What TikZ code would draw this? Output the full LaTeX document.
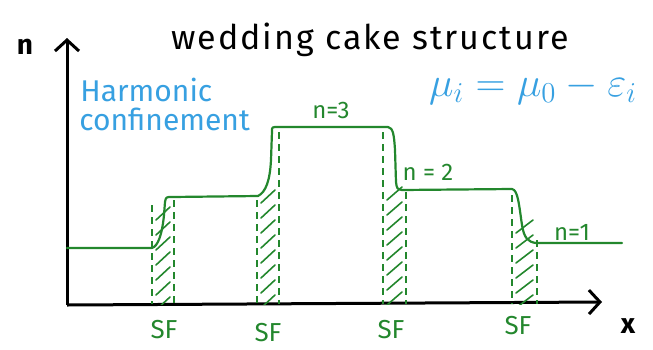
\documentclass[tikz,border=0pt]{standalone}
\usepackage{fontspec}
\setmainfont{Fira Sans}
\newfontfamily\handfont[LetterSpace=6]{Fira Sans}
\usetikzlibrary{arrows.meta}
\definecolor{pen}{RGB}{35,135,45}
\definecolor{ink}{RGB}{55,160,225}
\newcommand{\sfcolumn}[5]{% x1, x2, top of left dash, top of right dash, top of hatching
  \begin{scope}
    \clip (#1,#5) rectangle (#2,304);
    \foreach \yy in {0,15,...,140} {
      \draw[hatch] ({#1+4},{#5+\yy+15}) -- ({#2-4},{#5+\yy+2});
    }
  \end{scope}
  \draw[sfdash] (#1,#3) -- (#1,304);
  \draw[sfdash] (#2,#4) -- (#2,304);
}
\begin{document}
\begin{tikzpicture}[x=0.5pt,y=-0.5pt,
  axis/.style={line width=1.5pt,black,-{Straight Barb[length=5.5pt,width=12pt,line width=1.5pt]}},
  prof/.style={pen,line width=1.1pt,line join=round,line cap=round},
  sfdash/.style={pen,line width=0.9pt,dash pattern=on 3.5pt off 2.5pt},
  hatch/.style={pen,line width=0.8pt,line cap=round},
  lbl/.style={pen,font=\fontsize{12}{14}\selectfont,inner sep=0pt},
  sflbl/.style={pen,font=\fontsize{13}{15}\selectfont,inner sep=0pt},
  blue/.style={ink,font=\fontsize{15}{17}\selectfont,inner sep=0pt,anchor=west},
  axlbl/.style={black,font=\bfseries\fontsize{14}{16}\selectfont,inner sep=0pt}]
\useasboundingbox (0,0) rectangle (653,349);
% axes
\coordinate (O) at (67,305);
\coordinate (ytip) at (67,38);
\coordinate (xtip) at (602,302);
\draw[axis] (O) -- (ytip);
\draw[axis] (O) -- (xtip);
\node[axlbl] (nlab) at (25,47) {n};
\node[axlbl] (xlab) at (628,326) {x};
% superfluid columns
\sfcolumn{152}{174}{205}{200}{205}
\sfcolumn{257}{279}{200}{132}{188}
\sfcolumn{383}{406}{132}{192}{185}
\sfcolumn{512}{537}{195}{240}{218}
% density profile
\draw[prof] (67,248) -- (152,248)
  .. controls (158,246) and (162,235) .. (164,215) -- (165,202)
  .. controls (166,197) .. (172,197) -- (258,196)
  .. controls (266,192) and (270,180) .. (271,160) -- (272,131)
  .. controls (272,127) .. (278,127) -- (388,127)
  .. controls (393,128) and (394,134) .. (395,150) -- (396,182)
  .. controls (397,189) .. (402,190) -- (512,189)
  .. controls (518,190) and (519,205) .. (522,225)
  .. controls (524,238) and (528,242) .. (536,243) -- (622,243);
% labels
\node[font=\handfont\fontsize{17}{20}\selectfont,inner sep=0pt] (title) at (370,40) {wedding cake structure};
\node[blue] (harm) at (80,90) {Harmonic};
\node[blue] (conf) at (79,119) {confinement};
\node[ink,font=\fontsize{22}{26}\selectfont,inner sep=0pt] (mu) at (533,88) {$\mu_i=\mu_0-\varepsilon_i$};
\node[lbl] (n3) at (331,110) {n=3};
\node[lbl] (n2) at (428,172) {n = 2};
\node[lbl] (n1) at (572,232) {n=1};
\node[sflbl] (sf1) at (164,330) {SF};
\node[sflbl] (sf2) at (268,333) {SF};
\node[sflbl] (sf3) at (391,330) {SF};
\node[sflbl] (sf4) at (518,326) {SF};
\end{tikzpicture}
\end{document}
